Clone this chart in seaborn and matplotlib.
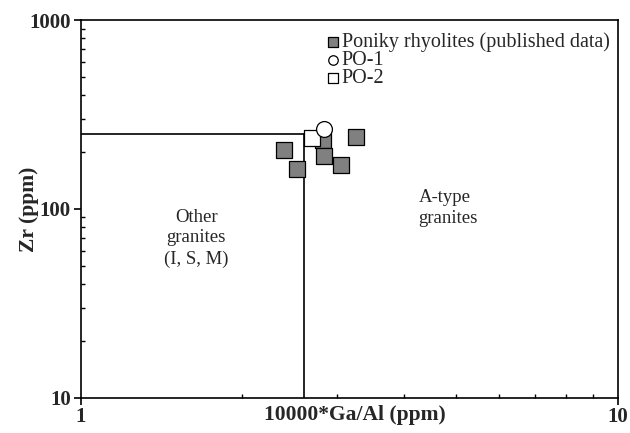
import matplotlib
matplotlib.use("Agg")
import matplotlib.pyplot as plt
import seaborn as sns
import pandas as pd
from matplotlib.ticker import LogLocator, FixedLocator, NullFormatter, FixedFormatter

sns.set_theme(style="white")
plt.rcParams['font.family'] = ['Liberation Serif', 'DejaVu Serif']

# Data
poniky_x = [2.39, 2.53, 2.82, 2.84, 3.05, 3.26]
poniky_y = [205, 163, 231, 191, 171, 241]
po1_x = [2.84]
po1_y = [265]
po2_x = [2.69]
po2_y = [236]

boundary_ga_al = 2.6
boundary_zr = 250

x_ticks = [1, 10]
y_ticks = [10, 100, 1000]

fig = plt.figure(figsize=(6.3, 4.33), dpi=100)
ax = fig.add_axes([0.128, 0.0815, 0.853, 0.8723])
ax.set_xscale('log')
ax.set_yscale('log')
ax.set_xlim(1, 10)
ax.set_ylim(10, 1000)

# boundary lines
ax.plot([1, boundary_ga_al], [boundary_zr, boundary_zr], color='black', lw=1.2, zorder=1)
ax.plot([boundary_ga_al, boundary_ga_al], [10, boundary_zr], color='black', lw=1.2, zorder=1)

df_p = pd.DataFrame({'x': poniky_x, 'y': poniky_y})
df_1 = pd.DataFrame({'x': po1_x, 'y': po1_y})
df_2 = pd.DataFrame({'x': po2_x, 'y': po2_y})

sns.scatterplot(data=df_p, x='x', y='y', ax=ax, marker='s', s=120, color='#808080',
                edgecolor='black', linewidth=0.9, zorder=3, label='Poniky rhyolites (published data)')
sns.scatterplot(data=df_1, x='x', y='y', ax=ax, marker='o', s=130, color='white',
                edgecolor='black', linewidth=0.9, zorder=5, label='PO-1')
sns.scatterplot(data=df_2, x='x', y='y', ax=ax, marker='s', s=120, color='white',
                edgecolor='black', linewidth=0.9, zorder=4, label='PO-2')

# ticks
ax.xaxis.set_major_locator(FixedLocator(x_ticks))
ax.xaxis.set_major_formatter(FixedFormatter([str(v) for v in x_ticks]))
ax.yaxis.set_major_locator(FixedLocator(y_ticks))
ax.yaxis.set_major_formatter(FixedFormatter([str(v) for v in y_ticks]))
ax.xaxis.set_minor_locator(LogLocator(base=10, subs=range(2, 10)))
ax.yaxis.set_minor_locator(LogLocator(base=10, subs=range(2, 10)))
ax.xaxis.set_minor_formatter(NullFormatter())
ax.yaxis.set_minor_formatter(NullFormatter())
ax.tick_params(which='major', direction='out', length=5, width=1.2, color='black',
               bottom=True, left=True, top=False, right=False, labelsize=15, pad=2)
ax.tick_params(which='minor', direction='in', length=3, width=1.0, color='black',
               bottom=True, left=True, top=False, right=False)
for lab in ax.get_xticklabels() + ax.get_yticklabels():
    lab.set_fontweight('bold')

for sp in ax.spines.values():
    sp.set_color('black')
    sp.set_linewidth(1.2)

ax.set_xlabel('10000*Ga/Al (ppm)', fontsize=15.5, fontweight='bold')
ax.xaxis.set_label_coords(0.51, -0.018)
ax.set_ylabel('Zr (ppm)', fontsize=15.5, fontweight='bold')
ax.yaxis.set_label_coords(-0.078, 0.5)

ax.text(1.64, 70, 'Other\ngranites\n(I, S, M)', ha='center', va='center', fontsize=13.5,
        linespacing=1.3)
ax.text(4.25, 101, 'A-type\ngranites', ha='left', va='center', fontsize=13.5, linespacing=1.25)

leg = ax.legend(loc='upper right', bbox_to_anchor=(1.007, 1.0), frameon=False, fontsize=14.5,
                handlelength=0.4, handletextpad=0.25, labelspacing=-0.05, borderaxespad=0.2,
                markerscale=0.6)

fig.savefig('out.png', dpi=100)
